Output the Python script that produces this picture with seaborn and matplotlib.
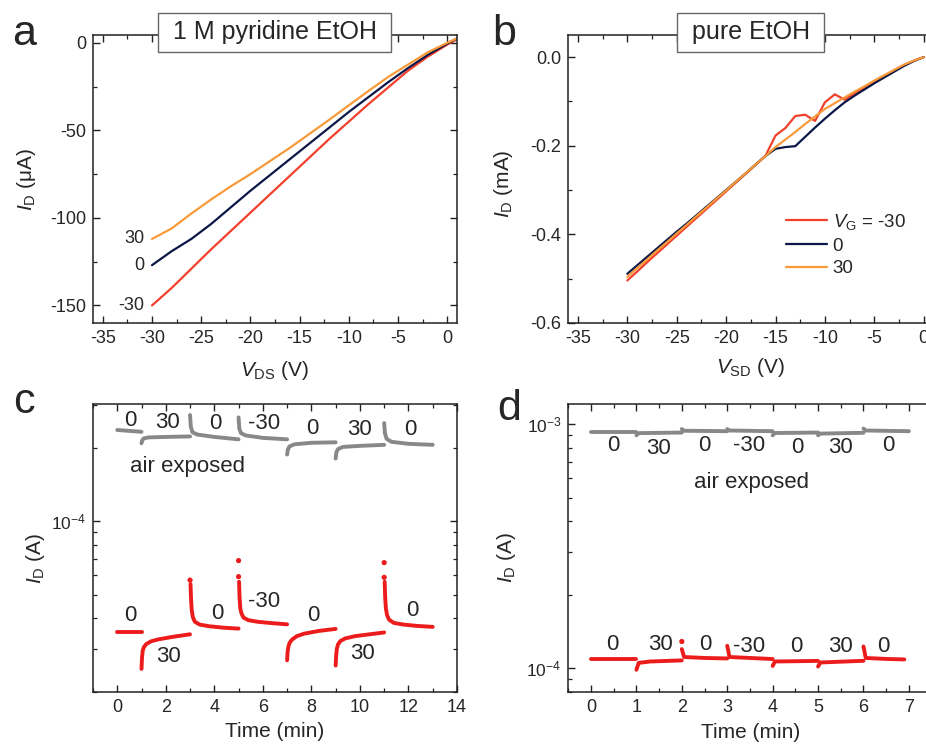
import numpy as np
import pandas as pd
import matplotlib.pyplot as plt
import seaborn as sns
from matplotlib.ticker import MultipleLocator, LogLocator, NullFormatter

# ---------------- data ----------------
# panel a: output curves in 1 M pyridine / EtOH (uA)
a_vds = [-30, -28, -26, -24, -22, -20, -18, -16, -14, -12, -10, -8, -6, -4, -2, 0, 1]
a_id_m30 = [-150, -140, -129, -118, -107.5, -97, -86.5, -76, -65.5, -55, -45, -35, -25.5, -16, -8, -1, 2]
a_id_0 = [-127, -119, -112, -103.5, -94, -84.5, -75.5, -66.5, -57.5, -48.5, -39.5, -31, -22.5, -14.5, -7, -0.5, 2.5]
a_id_30 = [-112, -106, -97.5, -89.5, -82, -75, -67.5, -60, -52, -44, -35.7, -27.5, -19.5, -12.5, -5.5, 0, 2.5]

# panel b: pure EtOH (mA)
b_vsd = [-30, -29, -28, -27, -26, -25, -24, -23, -22, -21, -20, -19, -18, -17, -16,
         -15, -14, -13, -12, -11, -10, -9, -8, -7, -6, -5, -4, -3, -2, -1, 0]
b_id_m30 = [-0.504, -0.484, -0.463, -0.443, -0.423, -0.403, -0.383, -0.363, -0.343, -0.323,
            -0.303, -0.283, -0.263, -0.243, -0.222, -0.177, -0.160, -0.133, -0.130, -0.144,
            -0.102, -0.084, -0.096, -0.082, -0.069, -0.055, -0.042, -0.030, -0.018, -0.008, 0.0]
b_id_0 = [-0.489, -0.470, -0.451, -0.432, -0.413, -0.394, -0.376, -0.357, -0.338, -0.319,
          -0.300, -0.281, -0.262, -0.242, -0.223, -0.207, -0.203, -0.201, -0.180, -0.159,
          -0.139, -0.120, -0.102, -0.087, -0.073, -0.059, -0.046, -0.033, -0.020, -0.009, 0.0]
b_id_30 = [-0.496, -0.476, -0.457, -0.437, -0.418, -0.398, -0.379, -0.359, -0.340, -0.320,
           -0.301, -0.281, -0.262, -0.242, -0.223, -0.203, -0.186, -0.169, -0.151, -0.134,
           -0.117, -0.104, -0.091, -0.078, -0.066, -0.053, -0.041, -0.029, -0.017, -0.008, 0.0]

# gate sequence used in c and d
gate_steps = ['0', '30', '0', '-30', '0', '30', '0']

# panel c: time traces (A), one list per gate step
c_gray_t = [[0.0, 0.5, 1.0],
            [1.0, 1.03, 1.1, 1.3, 2.0, 3.0],
            [3.0, 3.03, 3.1, 3.3, 4.0, 5.0],
            [5.0, 5.03, 5.1, 5.3, 6.0, 7.0],
            [7.0, 7.03, 7.1, 7.3, 8.0, 9.0],
            [9.0, 9.03, 9.1, 9.3, 10.0, 11.0],
            [11.0, 11.03, 11.1, 11.3, 12.0, 13.0]]
c_gray_i = [[2.37e-4, 2.35e-4, 2.33e-4],
            [2.09e-4, 2.15e-4, 2.19e-4, 2.21e-4, 2.22e-4, 2.23e-4],
            [2.73e-4, 2.45e-4, 2.32e-4, 2.27e-4, 2.22e-4, 2.17e-4],
            [2.67e-4, 2.40e-4, 2.30e-4, 2.25e-4, 2.20e-4, 2.17e-4],
            [1.88e-4, 1.97e-4, 2.03e-4, 2.07e-4, 2.10e-4, 2.11e-4],
            [1.81e-4, 1.92e-4, 1.98e-4, 2.02e-4, 2.04e-4, 2.06e-4],
            [2.53e-4, 2.30e-4, 2.18e-4, 2.12e-4, 2.08e-4, 2.06e-4]]
c_red_t = [[0.0, 0.5, 1.0],
           [1.0, 1.02, 1.05, 1.1, 1.2, 1.4, 1.7, 2.3, 3.0],
           [3.02, 3.04, 3.07, 3.12, 3.2, 3.4, 3.8, 4.4, 5.0],
           [5.02, 5.04, 5.07, 5.12, 5.2, 5.4, 5.8, 6.4, 7.0],
           [7.0, 7.02, 7.05, 7.1, 7.2, 7.4, 7.7, 8.3, 9.0],
           [9.0, 9.02, 9.05, 9.1, 9.2, 9.4, 9.8, 10.4, 11.0],
           [11.02, 11.04, 11.07, 11.12, 11.2, 11.4, 11.8, 12.4, 13.0]]
c_red_i = [[3.52e-5, 3.52e-5, 3.52e-5],
           [2.48e-5, 2.75e-5, 2.95e-5, 3.05e-5, 3.14e-5, 3.22e-5, 3.28e-5, 3.36e-5, 3.44e-5],
           [5.53e-5, 4.83e-5, 4.32e-5, 4.03e-5, 3.87e-5, 3.77e-5, 3.71e-5, 3.66e-5, 3.63e-5],
           [5.65e-5, 4.90e-5, 4.39e-5, 4.19e-5, 4.03e-5, 3.93e-5, 3.87e-5, 3.82e-5, 3.78e-5],
           [2.69e-5, 2.91e-5, 3.05e-5, 3.17e-5, 3.27e-5, 3.38e-5, 3.46e-5, 3.55e-5, 3.62e-5],
           [2.56e-5, 2.82e-5, 3.00e-5, 3.13e-5, 3.23e-5, 3.31e-5, 3.38e-5, 3.44e-5, 3.50e-5],
           [5.65e-5, 4.90e-5, 4.39e-5, 4.12e-5, 3.95e-5, 3.83e-5, 3.77e-5, 3.72e-5, 3.69e-5]]
# isolated first samples after switching to -30 / 0
c_red_spike_t = [3.0, 5.0, 5.0, 11.0, 11.0]
c_red_spike_i = [5.74e-5, 6.90e-5, 5.93e-5, 6.77e-5, 5.89e-5]

# panel d: time traces (A)
d_gray_t = [[0.0, 1.0],
            [1.0, 1.05, 2.0],
            [2.0, 2.05, 3.0],
            [3.0, 3.05, 4.0],
            [4.0, 4.05, 5.0],
            [5.0, 5.05, 6.0],
            [6.0, 6.05, 7.0]]
d_gray_i = [[9.33e-4, 9.33e-4],
            [9.00e-4, 9.19e-4, 9.24e-4],
            [9.55e-4, 9.40e-4, 9.36e-4],
            [9.55e-4, 9.42e-4, 9.36e-4],
            [9.00e-4, 9.20e-4, 9.24e-4],
            [9.00e-4, 9.15e-4, 9.22e-4],
            [9.60e-4, 9.42e-4, 9.36e-4]]
d_red_t = [[0.0, 1.0],
           [1.0, 1.05, 1.3, 2.0],
           [2.0, 2.05, 2.5, 3.0],
           [3.0, 3.05, 3.5, 4.0],
           [4.0, 4.05, 5.0],
           [5.0, 5.05, 6.0],
           [6.0, 6.05, 6.5, 6.9]]
d_red_i = [[1.089e-4, 1.089e-4],
           [9.84e-5, 1.05e-4, 1.064e-4, 1.075e-4],
           [1.196e-4, 1.11e-4, 1.10e-4, 1.095e-4],
           [1.234e-4, 1.11e-4, 1.10e-4, 1.089e-4],
           [1.02e-4, 1.064e-4, 1.07e-4],
           [1.015e-4, 1.054e-4, 1.071e-4],
           [1.226e-4, 1.10e-4, 1.09e-4, 1.085e-4]]
d_red_spike_t = [2.0]
d_red_spike_i = [1.285e-4]

# ---------------- style ----------------
sns.set_theme(style='ticks')
plt.rcParams['font.family'] = ['Liberation Sans', 'DejaVu Sans']
plt.rcParams['mathtext.fontset'] = 'custom'
plt.rcParams['mathtext.rm'] = 'Liberation Sans'
plt.rcParams['mathtext.it'] = 'Liberation Sans:italic'
plt.rcParams['axes.unicode_minus'] = False
plt.rcParams['axes.linewidth'] = 1.1
plt.rcParams['axes.edgecolor'] = '#222222'

RED = '#f2402c'
NAVY = '#0b1747'
ORANGE = '#f89a3a'
TRACE_RED = '#ec1c1c'
TRACE_GRAY = '#888888'
TICK_FS = 13
LAB_FS = 15
ANN_FS = 16

fig = plt.figure(figsize=(9.26, 7.44), dpi=100)
ax_a = fig.add_axes([0.1004, 0.5659, 0.3931, 0.3871])
ax_b = fig.add_axes([0.6134, 0.5659, 0.3948, 0.3871])
ax_c = fig.add_axes([0.1004, 0.0703, 0.3931, 0.3867])
ax_d = fig.add_axes([0.6137, 0.0703, 0.3948, 0.3867])


def style_axes(ax):
    ax.tick_params(which='both', direction='in', top=True, right=True,
                   labelsize=TICK_FS, color='#222222')
    ax.tick_params(which='major', length=5, width=1.0, pad=5)
    ax.tick_params(which='minor', length=3, width=0.9)


def segments_frame(t_list, i_list):
    rows = []
    for k, (ts, vals) in enumerate(zip(t_list, i_list)):
        for t, v in zip(ts, vals):
            rows.append((k, t, v))
    return pd.DataFrame(rows, columns=['seg', 'time', 'current'])


box_style = dict(boxstyle='square,pad=0.3', fc='white', ec='#666666', lw=1.0)

# ---------------- panel a ----------------
df_a = pd.DataFrame({
    'V': a_vds * 3,
    'I': a_id_m30 + a_id_0 + a_id_30,
    'VG': ['-30'] * len(a_vds) + ['0'] * len(a_vds) + ['30'] * len(a_vds),
})
sns.lineplot(data=df_a, x='V', y='I', hue='VG', palette={'-30': RED, '0': NAVY, '30': ORANGE},
             estimator=None, sort=False, lw=1.6, legend=False, ax=ax_a)
ax_a.set_xlim(-36, 1)
ax_a.set_ylim(-160, 4.5)
ax_a.xaxis.set_major_locator(MultipleLocator(5))
ax_a.xaxis.set_minor_locator(MultipleLocator(2.5))
ax_a.yaxis.set_major_locator(MultipleLocator(50))
ax_a.yaxis.set_minor_locator(MultipleLocator(25))
style_axes(ax_a)
ax_a.set_xlabel(r'$\mathit{V}_{\rm DS}$ (V)', fontsize=LAB_FS, va='top')
ax_a.set_ylabel(r'$\mathit{I}_{\rm D}$ (μA)', fontsize=LAB_FS)
ax_a.xaxis.set_label_coords(0.5, -0.125)
ax_a.yaxis.set_label_coords(-0.15, 0.497)
for lab, yv in zip(['30', '0', '-30'], [a_id_30[0], a_id_0[0], a_id_m30[0]]):
    ax_a.text(-30.8, yv, lab, ha='right', va='center', fontsize=TICK_FS)
ax_a.text(0.5, 1.01, ' 1 M pyridine EtOH ', transform=ax_a.transAxes, ha='center', va='center',
          fontsize=18, bbox=box_style, zorder=5)

# ---------------- panel b ----------------
b_lab = r'$\mathit{V}_{\rm G}$ = -30'
df_b = pd.DataFrame({
    'V': b_vsd * 3,
    'I': b_id_m30 + b_id_0 + b_id_30,
    'VG': [b_lab] * len(b_vsd) + ['0'] * len(b_vsd) + ['30'] * len(b_vsd),
})
sns.lineplot(data=df_b, x='V', y='I', hue='VG', palette={b_lab: RED, '0': NAVY, '30': ORANGE},
             estimator=None, sort=False, lw=1.6, ax=ax_b)
ax_b.set_xlim(-36, 1)
ax_b.set_ylim(-0.6, 0.05)
ax_b.xaxis.set_major_locator(MultipleLocator(5))
ax_b.xaxis.set_minor_locator(MultipleLocator(2.5))
ax_b.yaxis.set_major_locator(MultipleLocator(0.2))
ax_b.yaxis.set_minor_locator(MultipleLocator(0.1))
ax_b.yaxis.set_major_formatter(plt.FormatStrFormatter('%.1f'))
style_axes(ax_b)
ax_b.set_xlabel(r'$\mathit{V}_{\rm SD}$ (V)', fontsize=LAB_FS, va='top')
ax_b.set_ylabel(r'$\mathit{I}_{\rm D}$ (mA)', fontsize=LAB_FS)
ax_b.xaxis.set_label_coords(0.5, -0.115)
ax_b.yaxis.set_label_coords(-0.145, 0.483)
ax_b.legend(frameon=False, loc='center left', bbox_to_anchor=(0.585, 0.272), fontsize=13.5,
            handlelength=2.2, handletextpad=0.3, labelspacing=0.3, borderpad=0.2,
            borderaxespad=0)
ax_b.text(0.5, 1.01, ' pure EtOH ', transform=ax_b.transAxes, ha='center', va='center',
          fontsize=18, bbox=box_style, zorder=5)


# ---------------- panels c and d ----------------
def draw_traces(ax, gt, gi, rt, ri, st, si, lw):
    sns.lineplot(data=segments_frame(gt, gi), x='time', y='current', units='seg',
                 estimator=None, sort=False, color=TRACE_GRAY, lw=lw, ax=ax)
    sns.lineplot(data=segments_frame(rt, ri), x='time', y='current', units='seg',
                 estimator=None, sort=False, color=TRACE_RED, lw=lw, ax=ax)
    sns.scatterplot(x=st, y=si, color=TRACE_RED, s=14, edgecolor='none', ax=ax)
    ax.set_yscale('log')
    ax.yaxis.set_major_locator(LogLocator(base=10))
    ax.yaxis.set_minor_locator(LogLocator(base=10, subs=np.arange(2, 10)))
    ax.yaxis.set_minor_formatter(NullFormatter())
    style_axes(ax)
    ax.tick_params(axis='y', labelsize=12.5)
    ax.set_xlabel('Time (min)', fontsize=LAB_FS, va='top')
    ax.set_ylabel(r'$\mathit{I}_{\rm D}$ (A)', fontsize=LAB_FS)


draw_traces(ax_c, c_gray_t, c_gray_i, c_red_t, c_red_i, c_red_spike_t, c_red_spike_i, 2.8)
ax_c.set_xlim(-1, 14)
ax_c.set_ylim(2e-5, 3.03e-4)
ax_c.xaxis.set_major_locator(MultipleLocator(2))
ax_c.xaxis.set_minor_locator(MultipleLocator(1))
ax_c.xaxis.set_label_coords(0.5, -0.105)
ax_c.yaxis.set_label_coords(-0.125, 0.465)

c_gray_lab_x = [0.55, 2.06, 4.05, 6.04, 8.04, 10.0, 12.09]
c_gray_lab_y = [2.59e-4, 2.55e-4, 2.51e-4, 2.51e-4, 2.40e-4, 2.38e-4, 2.37e-4]
c_red_lab_x = [0.55, 2.13, 4.12, 6.04, 8.1, 10.1, 12.16]
c_red_lab_y = [4.12e-5, 2.79e-5, 4.18e-5, 4.67e-5, 4.12e-5, 2.86e-5, 4.32e-5]
for lab, x, y in zip(gate_steps, c_gray_lab_x, c_gray_lab_y):
    ax_c.text(x, y, lab, ha='center', va='center', fontsize=ANN_FS)
for lab, x, y in zip(gate_steps, c_red_lab_x, c_red_lab_y):
    ax_c.text(x, y, lab, ha='center', va='center', fontsize=ANN_FS)
ax_c.text(2.88, 1.68e-4, 'air exposed', ha='center', va='center', fontsize=ANN_FS)

draw_traces(ax_d, d_gray_t, d_gray_i, d_red_t, d_red_i, d_red_spike_t, d_red_spike_i, 2.8)
ax_d.set_xlim(-0.5, 7.55)
ax_d.set_ylim(8e-5, 1.21e-3)
ax_d.xaxis.set_major_locator(MultipleLocator(1))
ax_d.xaxis.set_minor_locator(MultipleLocator(0.5))
ax_d.xaxis.set_label_coords(0.5, -0.11)
ax_d.yaxis.set_label_coords(-0.138, 0.468)

d_gray_lab_x = [0.49, 1.49, 2.5, 3.48, 4.54, 5.5, 6.54]
d_gray_lab_y = [8.15e-4, 7.98e-4, 8.17e-4, 8.17e-4, 8.05e-4, 8.03e-4, 8.15e-4]
d_red_lab_x = [0.46, 1.53, 2.52, 3.49, 4.52, 5.5, 6.44]
d_red_lab_y = [1.246e-4, 1.246e-4, 1.246e-4, 1.226e-4, 1.226e-4, 1.226e-4, 1.226e-4]
for lab, x, y in zip(gate_steps, d_gray_lab_x, d_gray_lab_y):
    ax_d.text(x, y, lab, ha='center', va='center', fontsize=ANN_FS)
for lab, x, y in zip(gate_steps, d_red_lab_x, d_red_lab_y):
    ax_d.text(x, y, lab, ha='center', va='center', fontsize=ANN_FS)
ax_d.text(3.53, 5.76e-4, 'air exposed', ha='center', va='center', fontsize=ANN_FS)

# panel letters
for letter, x, y in [('a', 12, 45), ('b', 492, 45), ('c', 13, 413), ('d', 497, 420)]:
    fig.text(x / 926, 1 - y / 744, letter, fontsize=31, ha='left', va='baseline')

fig.savefig('out.png', dpi=100)
